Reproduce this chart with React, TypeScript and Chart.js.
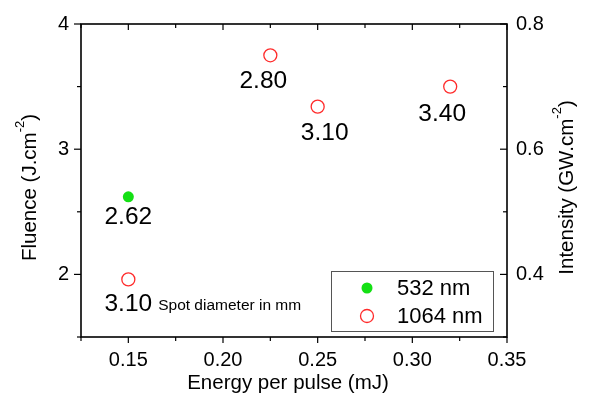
import React, { useEffect, useRef } from "react";
import { Chart, registerables } from "chart.js";

Chart.register(...registerables);

// ---- data ----
const energy532 = [0.15];
const fluence532 = [2.62];
const spot532 = ["2.62"];

const energy1064 = [0.15, 0.225, 0.25, 0.32];
const fluence1064 = [1.96, 3.75, 3.34, 3.5];
const spot1064 = ["3.10", "2.80", "3.10", "3.40"];

const seriesNames = ["532 nm", "1064 nm"];

// ---- ticks ----
const xMajorTicks = [0.15, 0.2, 0.25, 0.3, 0.35];
const xMinorTicks = [0.125, 0.175, 0.225, 0.275, 0.325];
const yLeftMajorTicks = [2, 3, 4];
const yLeftMinorTicks = [1.5, 2.5, 3.5];
const yRightMajorTicks = [0.4, 0.6, 0.8];
const yRightMinorTicks = [0.3, 0.5, 0.7];

const xTitle = "Energy per pulse (mJ)";
const yLeftTitle = ["Fluence (J.cm", "-2", ")"];
const yRightTitle = ["Intensity (GW.cm", "-2", ")"];
const noteText = "Spot diameter in mm";

// ---- style ----
const FONT = "'Liberation Sans', Arial, sans-serif";
const GREEN = "#14e014";
const RED = "#ff2b2b";
const labelOffsets532 = [[0, 20]];
const labelOffsets1064 = [[0, 25], [-7, 26], [7, 27], [-8, 28]];

const near = (a: number, arr: number[]) => arr.some((b) => Math.abs(a - b) < 1e-6);

const drawSupTitle = (ctx: CanvasRenderingContext2D, parts: string[], cx: number, cy: number) => {
  ctx.save();
  ctx.translate(cx, cy);
  ctx.rotate(-Math.PI / 2);
  const big = `20.5px ${FONT}`;
  const small = `13px ${FONT}`;
  ctx.font = big;
  const w0 = ctx.measureText(parts[0]).width;
  const w2 = ctx.measureText(parts[2]).width;
  ctx.font = small;
  const w1 = ctx.measureText(parts[1]).width;
  const total = w0 + w1 + w2;
  let x = -total / 2;
  ctx.fillStyle = "#000";
  ctx.textBaseline = "alphabetic";
  ctx.textAlign = "left";
  ctx.font = big;
  ctx.fillText(parts[0], x, 7.5);
  x += w0;
  ctx.font = small;
  ctx.fillText(parts[1], x, -4);
  x += w1;
  ctx.font = big;
  ctx.fillText(parts[2], x, 7.5);
  ctx.restore();
};

const customPlugin = {
  id: "customDraw",
  afterDraw(chart: any) {
    const ctx: CanvasRenderingContext2D = chart.ctx;
    const { left, right, top, bottom } = chart.chartArea;
    const xs = chart.scales.x;
    const yl = chart.scales.y;
    const yr = chart.scales.y2;
    ctx.save();
    ctx.strokeStyle = "#000";
    ctx.lineWidth = 1.6;
    ctx.strokeRect(left, top, right - left, bottom - top);

    ctx.lineWidth = 1.2;
    const seg = (x1: number, y1: number, x2: number, y2: number) => {
      ctx.beginPath();
      ctx.moveTo(x1, y1);
      ctx.lineTo(x2, y2);
      ctx.stroke();
    };
    xMajorTicks.forEach((v) => {
      const p = xs.getPixelForValue(v);
      seg(p, bottom, p, bottom + 6);
      seg(p, top, p, top + 6);
    });
    xMinorTicks.forEach((v) => {
      const p = xs.getPixelForValue(v);
      seg(p, bottom, p, bottom + 4);
      seg(p, top, p, top + 4);
    });
    yLeftMajorTicks.forEach((v) => {
      const p = yl.getPixelForValue(v);
      seg(left - 7, p, left, p);
    });
    yLeftMinorTicks.forEach((v) => {
      const p = yl.getPixelForValue(v);
      seg(left - 4, p, left, p);
    });
    yRightMajorTicks.forEach((v) => {
      const p = yr.getPixelForValue(v);
      seg(right - 7, p, right, p);
    });
    yRightMinorTicks.forEach((v) => {
      const p = yr.getPixelForValue(v);
      seg(right - 4, p, right, p);
    });

    // data labels
    ctx.fillStyle = "#000";
    ctx.textAlign = "center";
    ctx.textBaseline = "middle";
    ctx.font = `24.5px ${FONT}`;
    const m0 = chart.getDatasetMeta(0).data;
    const m1 = chart.getDatasetMeta(1).data;
    m0.forEach((pt: any, i: number) => {
      ctx.fillText(spot532[i], pt.x + labelOffsets532[i][0], pt.y + labelOffsets532[i][1]);
    });
    m1.forEach((pt: any, i: number) => {
      ctx.fillText(spot1064[i], pt.x + labelOffsets1064[i][0], pt.y + labelOffsets1064[i][1]);
    });
    // note next to first 1064 label
    {
      const pt = m1[0];
      const lw = ctx.measureText(spot1064[0]).width;
      const lx = pt.x + labelOffsets1064[0][0] + lw / 2 + 6;
      ctx.font = `15.5px ${FONT}`;
      ctx.textAlign = "left";
      ctx.fillText(noteText, lx, pt.y + labelOffsets1064[0][1] + 1);
    }

    // legend
    const bx = right - 176;
    const by = bottom - 66;
    ctx.strokeStyle = "#555";
    ctx.lineWidth = 1;
    ctx.strokeRect(bx + 0.5, by + 0.5, 162, 60);
    ctx.beginPath();
    ctx.arc(bx + 36, by + 17, 5.5, 0, Math.PI * 2);
    ctx.fillStyle = GREEN;
    ctx.fill();
    ctx.beginPath();
    ctx.arc(bx + 36, by + 45, 6.5, 0, Math.PI * 2);
    ctx.strokeStyle = RED;
    ctx.lineWidth = 1.3;
    ctx.stroke();
    ctx.fillStyle = "#000";
    ctx.font = `22px ${FONT}`;
    ctx.textAlign = "left";
    ctx.textBaseline = "middle";
    ctx.fillText(seriesNames[0], bx + 66, by + 18);
    ctx.fillText(seriesNames[1], bx + 66, by + 46);

    // titles
    ctx.font = `20.5px ${FONT}`;
    ctx.textAlign = "center";
    ctx.textBaseline = "middle";
    ctx.fillText(xTitle, (left + right) / 2 - 6, bottom + 46);
    drawSupTitle(ctx, yLeftTitle, 28, (top + bottom) / 2 + 7);
    drawSupTitle(ctx, yRightTitle, 565, (top + bottom) / 2 + 7);
    ctx.restore();
  },
};

export default function App() {
  const ref = useRef<HTMLCanvasElement | null>(null);
  useEffect(() => {
    document.body.style.margin = "0";
    if (!ref.current) return;
    const tickFont = { family: FONT, size: 20 };
    const chart = new Chart(ref.current, {
      type: "scatter",
      data: {
        datasets: [
          {
            label: seriesNames[0],
            data: energy532.map((x, i) => ({ x, y: fluence532[i] })),
            pointRadius: 5.5,
            pointBackgroundColor: GREEN,
            pointBorderWidth: 0,
            pointBorderColor: GREEN,
            yAxisID: "y",
          },
          {
            label: seriesNames[1],
            data: energy1064.map((x, i) => ({ x, y: fluence1064[i] })),
            pointRadius: 6.5,
            pointBackgroundColor: "rgba(0,0,0,0)",
            pointBorderColor: RED,
            pointBorderWidth: 1.3,
            yAxisID: "y",
          },
        ],
      },
      options: {
        responsive: false,
        animation: false,
        layout: { padding: { top: 21, left: 0, right: 0, bottom: 0 } },
        plugins: { legend: { display: false }, tooltip: { enabled: false }, title: { display: false } },
        scales: {
          x: {
            type: "linear",
            position: "bottom",
            min: 0.125,
            max: 0.35,
            afterBuildTicks: (s: any) => {
              s.ticks = xMajorTicks.map((v) => ({ value: v }));
            },
            afterFit: (s: any) => {
              s.height = 60;
            },
            grid: { display: false, drawTicks: false },
            border: { display: false },
            ticks: {
              autoSkip: false,
              maxRotation: 0,
              padding: 11,
              color: "#000",
              font: tickFont,
              callback: (v: any) => (near(Number(v), xMajorTicks) ? Number(v).toFixed(2) : ""),
            },
          },
          y: {
            type: "linear",
            position: "left",
            min: 1.5,
            max: 4,
            afterBuildTicks: (s: any) => {
              s.ticks = yLeftMajorTicks.map((v) => ({ value: v }));
            },
            afterFit: (s: any) => {
              s.width = 81;
            },
            grid: { display: false, drawTicks: false },
            border: { display: false },
            ticks: {
              padding: 12,
              color: "#000",
              font: tickFont,
              callback: (v: any) => String(v),
            },
          },
          y2: {
            type: "linear",
            position: "right",
            display: true,
            min: 0.3,
            max: 0.8,
            afterBuildTicks: (s: any) => {
              s.ticks = yRightMajorTicks.map((v) => ({ value: v }));
            },
            afterFit: (s: any) => {
              s.width = 83;
            },
            grid: { display: false, drawTicks: false },
            border: { display: false },
            ticks: {
              padding: 9,
              color: "#000",
              font: tickFont,
              callback: (v: any) => Number(v).toFixed(1),
            },
          },
        },
      },
      plugins: [customPlugin],
    } as any);
    return () => chart.destroy();
  }, []);
  return <canvas ref={ref} width={590} height={397} style={{ display: "block" }} />;
}
